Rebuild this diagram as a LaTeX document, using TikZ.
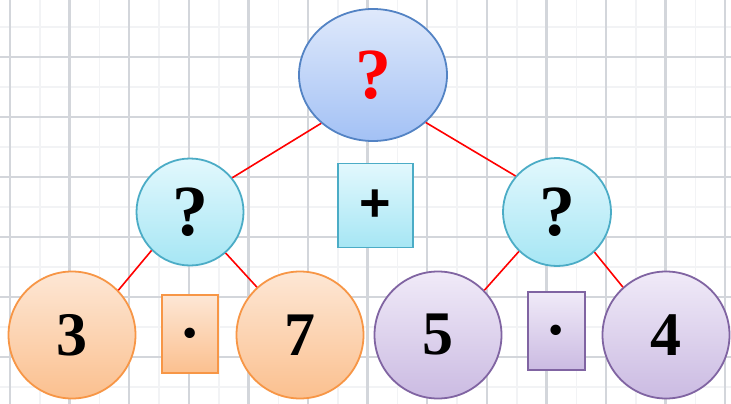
\documentclass[tikz,border=0pt]{standalone}
\usepackage{fontspec}
\setmainfont{Liberation Serif}
\newfontfamily\plusfont{Liberation Sans}
\usetikzlibrary{shapes.geometric}
\definecolor{gridc}{HTML}{D3D6DB}
\definecolor{gridf}{HTML}{F2F3F5}
\definecolor{blueT}{HTML}{DFE9FB}
\definecolor{blueB}{HTML}{A3C1F5}
\definecolor{blueD}{HTML}{5383C4}
\definecolor{cyanT}{HTML}{E2F8FD}
\definecolor{cyanB}{HTML}{A6E6F4}
\definecolor{cyanD}{HTML}{4BACC6}
\definecolor{oraT}{HTML}{FDE7D5}
\definecolor{oraB}{HTML}{FBC08F}
\definecolor{oraD}{HTML}{F79646}
\definecolor{purT}{HTML}{F0EAF8}
\definecolor{purB}{HTML}{CBBBE2}
\definecolor{purD}{HTML}{8064A2}
\tikzset{
  gridline/.style={gridc, line width=2.4pt},
  gridfaint/.style={gridf, line width=1.5pt},
  edge/.style={red, line width=1.6pt},
  bubble/.style={circle, inner sep=0pt, line width=1.8pt, font=\fontsize{62}{62}\selectfont\bfseries},
  opbox/.style={rectangle, inner sep=0pt, line width=1.8pt},
  dotbox/.style={opbox, font=\fontsize{64}{64}\selectfont\bfseries, text height=41pt, text depth=0pt},
  bluefill/.style={draw=blueD, top color=blueT, bottom color=blueB},
  cyanfill/.style={draw=cyanD, top color=cyanT, bottom color=cyanB},
  orafill/.style={draw=oraD, top color=oraT, bottom color=oraB},
  purfill/.style={draw=purD, top color=purT, bottom color=purB},
}
\begin{document}
\begin{tikzpicture}[x=1pt,y=-1pt]
\useasboundingbox (0,0) rectangle (731,404);
\fill[white] (0,0) rectangle (731,404);
\foreach \i in {0,...,12} \draw[gridfaint] ({40+59.6*\i},0) -- ++(0,404);
\foreach \i in {0,...,6} \draw[gridfaint] (0,{27+60*\i}) -- ++(731,0);
\foreach \i in {0,...,12} \draw[gridline] ({10+59.6*\i},0) -- ++(0,404);
\foreach \i in {0,...,6} \draw[gridline] (0,{-3+60*\i}) -- ++(731,0);

\node[ellipse, inner sep=0pt, line width=1.8pt, bluefill, minimum width=148pt, minimum height=132pt,
  font=\fontsize{72}{72}\selectfont\bfseries, text=red] (top) at (373,75) {?};
\node[bubble, cyanfill, minimum size=107pt, font=\fontsize{72}{72}\selectfont\bfseries] (ml) at (190,212) {?};
\node[bubble, cyanfill, minimum size=108pt, font=\fontsize{72}{72}\selectfont\bfseries] (mr) at (557,212) {?};
\node[opbox, cyanfill, minimum width=75pt, minimum height=84pt, font=\fontsize{54}{54}\selectfont\plusfont\bfseries] (plus) at (375.5,205.5) {+};

\node[bubble, orafill, minimum size=127pt] (n3) at (72,335) {3};
\node[bubble, orafill, minimum size=127pt] (n7) at (300,335) {7};
\node[bubble, purfill, minimum size=127pt] (n5) at (438,335) {5};
\node[bubble, purfill, minimum size=127pt] (n4) at (666,335) {4};
\node[dotbox, orafill, minimum width=56pt, minimum height=78pt] (dotL) at (190,334) {·};
\node[dotbox, purfill, minimum width=57pt, minimum height=78pt] (dotR) at (556.5,331) {·};

\draw[edge] (top.223) -- (ml.39);
\draw[edge] (top.318) -- (mr.139);
\draw[edge] (ml.225) -- (n3.44);
\draw[edge] (ml.311) -- (n7.132);
\draw[edge] (mr.226) -- (n5.44);
\draw[edge] (mr.313) -- (n4.132);
\end{tikzpicture}
\end{document}
